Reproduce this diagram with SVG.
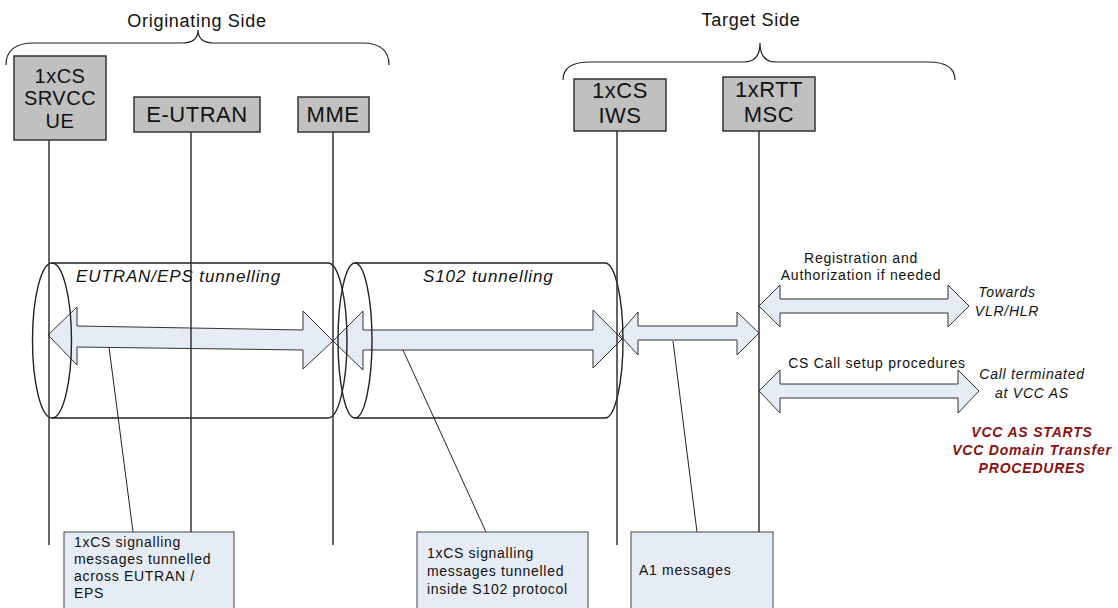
<svg xmlns="http://www.w3.org/2000/svg" width="1118" height="608" viewBox="0 0 1118 608">
<style>
.node{fill:#c0c0c0;stroke:#333;stroke-width:1.5}
.nt{font-family:"Liberation Sans",Arial,sans-serif;font-size:22px;fill:#111;text-anchor:middle;letter-spacing:0.5px}
.title{font-family:"Liberation Sans",Arial,sans-serif;font-size:18px;fill:#111;text-anchor:middle;letter-spacing:0.7px}
.brace{fill:none;stroke:#222;stroke-width:1.2}
.life{stroke:#333;stroke-width:1.5;fill:none}
.cyl{fill:none;stroke:#222;stroke-width:1.4}
.arr{fill:#e6ecf6;stroke:#333;stroke-width:1}
.call{stroke:#222;stroke-width:1;fill:none}
.note{fill:#e6ecf6;stroke:#444;stroke-width:1}
.nt2{font-family:"Liberation Sans",Arial,sans-serif;font-size:14px;fill:#111;letter-spacing:0.7px}
.lab{font-family:"Liberation Sans",Arial,sans-serif;font-size:14px;fill:#111;text-anchor:middle;letter-spacing:0.75px}
.it{font-family:"Liberation Sans",Arial,sans-serif;font-size:14px;font-style:italic;fill:#111;text-anchor:middle;letter-spacing:0.75px}
.tun{font-family:"Liberation Sans",Arial,sans-serif;font-size:17px;font-style:italic;fill:#111;letter-spacing:0.9px}
.red{font-family:"Liberation Sans",Arial,sans-serif;font-size:14px;font-style:italic;font-weight:bold;fill:#8b1010;text-anchor:middle;letter-spacing:0.8px}
</style>
<rect width="1118" height="608" fill="#ffffff"/>

<g id="side-labels">
<text class="title" x="197" y="27">Originating Side</text>
<path class="brace" d="M6,65 C6,51 15,43 34,43 L182,43 C193,43 198,38 198,30 C198,38 203,43 214,43 L362,43 C380,43 389,51 389,65"/>
<text class="title" x="751" y="26">Target Side</text>
<path class="brace" d="M563,80 C563,68 572,62 590,62 L744,62 C755,62 760,55 760,43 C760,55 765,62 776,62 L928,62 C946,62 955,68 955,80"/>
</g>

<g id="connectors">
<polygon class="arr" points="48,335 77,307 77,326 303,330 303,311 333,341 303,369 303,350 77,347 77,365"/>
<polygon class="arr" points="333,341 363,311 363,330 593,330 593,310 622,339 593,368 593,350 363,350 363,370"/>
<polygon class="arr" points="619,334 638,312 638,326 737,326 737,312 759,333 737,355 737,340 638,340 638,355"/>
<polygon class="arr" points="759,306 780,285 780,299 948,299 948,285 969,306 948,327 948,313 780,313 780,327"/>
<polygon class="arr" points="759,391 780,370 780,384 958,384 958,370 979,391 958,413 958,398 780,398 780,413"/>
</g>

<g id="tunnel-eutran">
<path class="cyl" d="M52,263 L328,263 A19,77.5 0 0 1 328,418 L52,418"/>
<ellipse class="cyl" cx="52" cy="340.5" rx="19.5" ry="77.5"/>
<text class="tun" x="76" y="282">EUTRAN/EPS tunnelling</text>
</g>
<g id="tunnel-s102">
<path class="cyl" d="M355,263 L605,263 A18,77.5 0 0 1 605,418 L355,418"/>
<ellipse class="cyl" cx="355" cy="340.5" rx="17" ry="77.5"/>
<text class="tun" x="423" y="282">S102 tunnelling</text>
</g>

<g id="lifelines">
<line class="life" x1="49" y1="140" x2="49" y2="545"/>
<line class="life" x1="191" y1="132" x2="191" y2="532"/>
<line class="life" x1="333" y1="132" x2="333" y2="545"/>
<line class="life" x1="617" y1="131" x2="617" y2="545"/>
<line class="life" x1="759" y1="131" x2="759" y2="532"/>
</g>

<g id="node-ue">
<rect class="node" x="14" y="56" width="92" height="84"/>
<text class="nt" x="60" y="83" style="font-size:20px">1xCS</text>
<text class="nt" x="60" y="105" style="font-size:20px">SRVCC</text>
<text class="nt" x="60" y="128" style="font-size:20px">UE</text>
</g>
<g id="node-eutran">
<rect class="node" x="134" y="97" width="126" height="35"/>
<text class="nt" x="197" y="122">E-UTRAN</text>
</g>
<g id="node-mme">
<rect class="node" x="298" y="97" width="71" height="35"/>
<text class="nt" x="333" y="122">MME</text>
</g>
<g id="node-iws">
<rect class="node" x="574" y="79" width="92" height="52"/>
<text class="nt" x="620" y="98">1xCS</text>
<text class="nt" x="620" y="123">IWS</text>
</g>
<g id="node-msc">
<rect class="node" x="723" y="77" width="92" height="54"/>
<text class="nt" x="769" y="97">1xRTT</text>
<text class="nt" x="769" y="122">MSC</text>
</g>

<g id="labels">
<text class="lab" x="861" y="263">Registration and</text>
<text class="lab" x="861" y="280">Authorization if needed</text>
<text class="it" x="1007" y="297">Towards</text>
<text class="it" x="1007" y="316">VLR/HLR</text>
<text class="lab" x="877" y="368">CS Call setup procedures</text>
<text class="it" x="1032" y="379">Call terminated</text>
<text class="it" x="1032" y="398">at VCC AS</text>
<text class="red" x="1032" y="437">VCC AS STARTS</text>
<text class="red" x="1032" y="455">VCC Domain Transfer</text>
<text class="red" x="1032" y="473">PROCEDURES</text>
</g>

<g id="callouts">
<line class="call" x1="109" y1="347" x2="133" y2="532"/>
<line class="call" x1="403" y1="350" x2="486" y2="532"/>
<line class="call" x1="673" y1="341" x2="697" y2="532"/>
</g>

<g id="note-eutran">
<rect class="note" x="64" y="532" width="170" height="80"/>
<text class="nt2" x="74" y="547">1xCS signalling</text>
<text class="nt2" x="74" y="564">messages tunnelled</text>
<text class="nt2" x="74" y="581">across EUTRAN /</text>
<text class="nt2" x="74" y="598">EPS</text>
</g>
<g id="note-s102">
<rect class="note" x="417" y="532" width="171" height="80"/>
<text class="nt2" x="427" y="558">1xCS signalling</text>
<text class="nt2" x="427" y="576">messages tunnelled</text>
<text class="nt2" x="427" y="594">inside S102 protocol</text>
</g>
<g id="note-a1">
<rect class="note" x="631" y="532" width="142" height="80"/>
<text class="nt2" x="639" y="575">A1 messages</text>
</g>
</svg>
